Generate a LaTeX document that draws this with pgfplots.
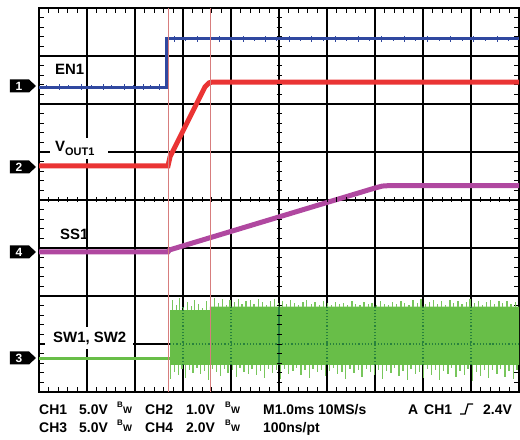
\documentclass[border=0pt]{standalone}
\usepackage{pgfplots}
\pgfplotsset{compat=1.18}
\usepackage{fontspec}
\setmainfont{Liberation Sans}
\definecolor{cblue}{RGB}{48,72,160}
\definecolor{cred}{RGB}{234,52,52}
\definecolor{cmag}{RGB}{176,72,160}
\definecolor{cgreen}{RGB}{104,190,72}
\definecolor{cgreenl}{RGB}{120,198,92}
\definecolor{cgreend}{RGB}{40,130,60}
\definecolor{ccur}{RGB}{215,125,125}
\begin{document}
\begin{tikzpicture}
\begin{axis}[
  width=480bp, height=384bp, scale only axis,
  xmin=0, xmax=10, ymin=0, ymax=8,
  xtick={0,...,10}, ytick={0,...,8},
  xticklabels={}, yticklabels={},
  minor x tick num=4, minor y tick num=4,
  grid=major, major grid style={black, line width=1.2bp},
  axis line style={black, line width=2bp},
  tick align=inside, major tick length=0pt, minor tick length=5bp,
  minor tick style={black, line width=0.8bp},
  unbounded coords=jump,
]
% SW band
\addplot[fill=cgreen, draw=none] coordinates {(2.73,0.5625) (2.73,1.708) (3.56,1.708) (3.56,1.78) (10,1.78) (10,0.5625)} --cycle;
% top spikes
\addplot[draw=none, mark=none, error bars/.cd, y dir=plus, y explicit, error mark=none,
  error bar style={draw=cgreenl, line width=1.3bp}] coordinates {
(2.78,1.70) +- (0,0.22) (2.86,1.70) +- (0,0.12) (2.93,1.70) +- (0,0.25) (3.01,1.70) +- (0,0.08)
(3.09,1.70) +- (0,0.18) (3.17,1.70) +- (0,0.10) (3.24,1.70) +- (0,0.22) (3.33,1.70) +- (0,0.14)
(3.41,1.70) +- (0,0.06) (3.49,1.70) +- (0,0.20) (3.58,1.77) +- (0,0.12) (3.66,1.77) +- (0,0.18)
(3.74,1.77) +- (0,0.08) (3.82,1.77) +- (0,0.16) (3.90,1.77) +- (0,0.05) (3.98,1.77) +- (0,0.14)
(4.07,1.77) +- (0,0.10) (4.15,1.77) +- (0,0.17) (4.23,1.77) +- (0,0.06) (4.31,1.77) +- (0,0.12)
(4.40,1.77) +- (0,0.15) (4.48,1.77) +- (0,0.07) (4.57,1.77) +- (0,0.17) (4.65,1.77) +- (0,0.10)
(4.74,1.77) +- (0,0.05) (4.82,1.77) +- (0,0.13) (4.90,1.77) +- (0,0.16) (4.99,1.77) +- (0,0.08)
(5.07,1.77) +- (0,0.12) (5.16,1.77) +- (0,0.06) (5.24,1.77) +- (0,0.14) (5.33,1.77) +- (0,0.09)
(5.41,1.77) +- (0,0.04) (5.50,1.77) +- (0,0.11) (5.58,1.77) +- (0,0.15) (5.67,1.77) +- (0,0.06)
(5.75,1.77) +- (0,0.10) (5.84,1.77) +- (0,0.05) (5.92,1.77) +- (0,0.13) (6.01,1.77) +- (0,0.08)
(6.09,1.77) +- (0,0.04) (6.18,1.77) +- (0,0.11) (6.26,1.77) +- (0,0.06) (6.35,1.77) +- (0,0.09)
(6.43,1.77) +- (0,0.05) (6.52,1.77) +- (0,0.12) (6.60,1.77) +- (0,0.07) (6.69,1.77) +- (0,0.04)
(6.77,1.77) +- (0,0.10) (6.86,1.77) +- (0,0.06) (6.94,1.77) +- (0,0.09) (7.03,1.77) +- (0,0.05)
(7.11,1.77) +- (0,0.12) (7.20,1.77) +- (0,0.07) (7.28,1.77) +- (0,0.04) (7.37,1.77) +- (0,0.10)
(7.45,1.77) +- (0,0.06) (7.54,1.77) +- (0,0.13) (7.62,1.77) +- (0,0.08) (7.71,1.77) +- (0,0.05)
(7.79,1.77) +- (0,0.14) (7.88,1.77) +- (0,0.09) (7.96,1.77) +- (0,0.16) (8.05,1.77) +- (0,0.06)
(8.13,1.77) +- (0,0.11) (8.22,1.77) +- (0,0.15) (8.30,1.77) +- (0,0.07) (8.39,1.77) +- (0,0.12)
(8.47,1.77) +- (0,0.05) (8.56,1.77) +- (0,0.14) (8.64,1.77) +- (0,0.09) (8.73,1.77) +- (0,0.13)
(8.81,1.77) +- (0,0.06) (8.90,1.77) +- (0,0.11) (8.98,1.77) +- (0,0.16) (9.07,1.77) +- (0,0.08)
(9.15,1.77) +- (0,0.12) (9.24,1.77) +- (0,0.05) (9.32,1.77) +- (0,0.10) (9.41,1.77) +- (0,0.14)
(9.49,1.77) +- (0,0.07) (9.58,1.77) +- (0,0.12) (9.66,1.77) +- (0,0.09) (9.75,1.77) +- (0,0.13)
(9.83,1.77) +- (0,0.06) (9.92,1.77) +- (0,0.11)
};
% bottom spikes
\addplot[draw=none, mark=none, error bars/.cd, y dir=minus, y explicit, error mark=none,
  error bar style={draw=cgreenl, line width=1.3bp}] coordinates {
(2.74,0.57) +- (0,0.30) (2.82,0.57) +- (0,0.15) (2.90,0.57) +- (0,0.22) (2.98,0.57) +- (0,0.10)
(3.05,0.57) +- (0,0.28) (3.13,0.57) +- (0,0.12) (3.21,0.57) +- (0,0.18) (3.29,0.57) +- (0,0.08)
(3.37,0.57) +- (0,0.20) (3.45,0.57) +- (0,0.14) (3.53,0.57) +- (0,0.32) (3.62,0.57) +- (0,0.10)
(3.70,0.57) +- (0,0.16) (3.78,0.57) +- (0,0.24) (3.86,0.57) +- (0,0.09) (3.94,0.57) +- (0,0.18)
(4.03,0.57) +- (0,0.12) (4.11,0.57) +- (0,0.26) (4.19,0.57) +- (0,0.08) (4.27,0.57) +- (0,0.15)
(4.36,0.57) +- (0,0.20) (4.44,0.57) +- (0,0.10) (4.53,0.57) +- (0,0.22) (4.61,0.57) +- (0,0.13)
(4.70,0.57) +- (0,0.28) (4.78,0.57) +- (0,0.09) (4.86,0.57) +- (0,0.17) (4.95,0.57) +- (0,0.12)
(5.03,0.57) +- (0,0.30) (5.12,0.57) +- (0,0.10) (5.20,0.57) +- (0,0.19) (5.29,0.57) +- (0,0.14)
(5.37,0.57) +- (0,0.08) (5.46,0.57) +- (0,0.22) (5.54,0.57) +- (0,0.12) (5.63,0.57) +- (0,0.27)
(5.71,0.57) +- (0,0.09) (5.80,0.57) +- (0,0.16) (5.88,0.57) +- (0,0.11) (5.97,0.57) +- (0,0.24)
(6.05,0.57) +- (0,0.13) (6.14,0.57) +- (0,0.08) (6.22,0.57) +- (0,0.20) (6.31,0.57) +- (0,0.15)
(6.39,0.57) +- (0,0.29) (6.48,0.57) +- (0,0.10) (6.56,0.57) +- (0,0.18) (6.65,0.57) +- (0,0.12)
(6.73,0.57) +- (0,0.25) (6.82,0.57) +- (0,0.09) (6.90,0.57) +- (0,0.16) (6.99,0.57) +- (0,0.21)
(7.07,0.57) +- (0,0.11) (7.16,0.57) +- (0,0.30) (7.24,0.57) +- (0,0.13) (7.33,0.57) +- (0,0.18)
(7.41,0.57) +- (0,0.08) (7.50,0.57) +- (0,0.24) (7.58,0.57) +- (0,0.14) (7.67,0.57) +- (0,0.33)
(7.75,0.57) +- (0,0.10) (7.84,0.57) +- (0,0.20) (7.92,0.57) +- (0,0.15) (8.01,0.57) +- (0,0.27)
(8.09,0.57) +- (0,0.09) (8.18,0.57) +- (0,0.22) (8.26,0.57) +- (0,0.12) (8.35,0.57) +- (0,0.31)
(8.43,0.57) +- (0,0.14) (8.52,0.57) +- (0,0.19) (8.60,0.57) +- (0,0.08) (8.69,0.57) +- (0,0.26)
(8.77,0.57) +- (0,0.13) (8.86,0.57) +- (0,0.21) (8.94,0.57) +- (0,0.10) (9.03,0.57) +- (0,0.34)
(9.11,0.57) +- (0,0.15) (9.20,0.57) +- (0,0.23) (9.28,0.57) +- (0,0.11) (9.37,0.57) +- (0,0.28)
(9.45,0.57) +- (0,0.12) (9.54,0.57) +- (0,0.20) (9.62,0.57) +- (0,0.09) (9.71,0.57) +- (0,0.25)
(9.79,0.57) +- (0,0.14) (9.88,0.57) +- (0,0.30) (9.96,0.57) +- (0,0.12)
};
% grid dots through band
\draw[cgreend, line width=1.2bp, dotted] (axis cs:2.73,1) -- (axis cs:10,1);
\foreach \gx in {3,4,6,7,8,9} {\edef\tmp{\noexpand\draw[cgreend, line width=1.2bp, dotted] (axis cs:\gx,0.5625) -- (axis cs:\gx,1.77);}\tmp}
\draw[cgreend, line width=1.2bp] (axis cs:5,0.5625) -- (axis cs:5,1.77);
% SW low
\addplot[cgreen, line width=3bp] coordinates {(0,0.708) (2.73,0.708)};
% SS1
\addplot[cmag, line width=5bp] coordinates {(0,2.917) (2.6875,2.917) (2.72,2.96) (7.0,4.25) (7.15,4.29) (7.3,4.30) (10,4.30)};
% VOUT1
\addplot[cred, line width=5bp] coordinates {(0,4.71) (2.6875,4.71) (2.73,4.90) (2.78,5.00) (3.46,6.36) (3.54,6.44) (3.62,6.458) (10,6.458)};
% EN1
\addplot[cblue, line width=3bp] coordinates {(0,6.354) (2.646,6.354) (2.646,7.354) (10,7.354)};
% EN1 noise
\addplot[draw=none, mark=none, error bars/.cd, y dir=both, y explicit, error mark=none,
  error bar style={draw=cblue, line width=1bp}] coordinates {
(0.15,6.354) +- (0,0.05) (0.42,6.354) +- (0,0.06) (0.61,6.354) +- (0,0.04) (0.88,6.354) +- (0,0.06)
(1.10,6.354) +- (0,0.05) (1.35,6.354) +- (0,0.07) (1.52,6.354) +- (0,0.05) (1.78,6.354) +- (0,0.06)
(1.96,6.354) +- (0,0.04) (2.17,6.354) +- (0,0.06) (2.33,6.354) +- (0,0.05) (2.52,6.354) +- (0,0.06)
(2.82,7.354) +- (0,0.06) (3.05,7.354) +- (0,0.05) (3.31,7.354) +- (0,0.06) (3.58,7.354) +- (0,0.05)
(3.77,7.354) +- (0,0.06) (4.02,7.354) +- (0,0.04) (4.26,7.354) +- (0,0.06) (4.49,7.354) +- (0,0.05)
(4.71,7.354) +- (0,0.06) (4.95,7.354) +- (0,0.05) (5.21,7.354) +- (0,0.06) (5.44,7.354) +- (0,0.04)
(5.67,7.354) +- (0,0.06) (5.93,7.354) +- (0,0.05) (6.18,7.354) +- (0,0.06) (6.40,7.354) +- (0,0.05)
(6.66,7.354) +- (0,0.06) (6.89,7.354) +- (0,0.04) (7.13,7.354) +- (0,0.06) (7.38,7.354) +- (0,0.05)
(7.61,7.354) +- (0,0.06) (7.85,7.354) +- (0,0.05) (8.10,7.354) +- (0,0.06) (8.34,7.354) +- (0,0.04)
(8.57,7.354) +- (0,0.06) (8.82,7.354) +- (0,0.05) (9.06,7.354) +- (0,0.06) (9.30,7.354) +- (0,0.05)
(9.55,7.354) +- (0,0.06) (9.79,7.354) +- (0,0.05)
};
% cursors
\addplot[ccur, line width=0.9bp] coordinates {(2.6875,0) (2.6875,8)};
\addplot[ccur, line width=0.9bp] coordinates {(3.5625,0) (3.5625,8)};
\end{axis}
\begin{scope}[x=1bp, y=-1bp, shift={([xshift=-39bp,yshift=8bp]current axis.north west)}]
% centre crosshair ticks
\foreach \i in {1,...,39} {\draw[black, line width=0.8bp] (276.5,8+\i*9.6) -- (281.5,8+\i*9.6);}
\foreach \i in {1,...,49} {\draw[black, line width=0.8bp] (39+\i*9.6,197.5) -- (39+\i*9.6,202.5);}
% label boxes
\fill[white] (50,138) rectangle (108,159);
\fill[white] (45,327) rectangle (133,349);
\node[anchor=base west, inner sep=0, font=\fontsize{15}{15}\selectfont\bfseries] at (55,75) {EN1};
\node[anchor=base west, inner sep=0, font=\fontsize{15}{15}\selectfont\bfseries] at (55,152) {V\raisebox{-4bp}{\fontsize{11}{11}\selectfont OUT1}};
\node[anchor=base west, inner sep=0, font=\fontsize{15}{15}\selectfont\bfseries] at (60,240) {SS1};
\node[anchor=base west, inner sep=0, font=\fontsize{15}{15}\selectfont\bfseries] at (53,343) {SW1, SW2};
% channel markers
\foreach \yy/\lab in {86/1,167/2,252/4,358/3} {
  \fill[black] (10,\yy-6.5) -- (29,\yy-6.5) -- (36,\yy) -- (29,\yy+6.5) -- (10,\yy+6.5) -- cycle;
  \node[white, font=\fontsize{12}{12}\selectfont\bfseries, inner sep=0] at (19,\yy) {\lab};
}
% bottom text
\tikzset{bt/.style={anchor=base west, inner sep=0, font=\fontsize{14}{14}\selectfont\bfseries}}
\tikzset{bb/.style={anchor=base west, inner sep=0, font=\fontsize{8}{8}\selectfont\bfseries}}
\tikzset{bw/.style={anchor=base west, inner sep=0, font=\fontsize{9.5}{9.5}\selectfont\bfseries}}
\node[bt] at (39,415) {CH1};
\node[bt] at (79,415) {5.0V};
\node[bb] at (117,408) {B}; \node[bw] at (123,414) {W};
\node[bt] at (145,415) {CH2};
\node[bt] at (186,415) {1.0V};
\node[bb] at (225,408) {B}; \node[bw] at (231,414) {W};
\node[bt] at (263,415) {M1.0ms 10MS/s};
\node[bt] at (408,415) {A};
\node[bt] at (424,415) {CH1};
\draw[black, line width=1.3bp] (460,414) -- (465,414) -- (468,404) -- (473,404);
\node[bt] at (483,415) {2.4V};
\node[bt] at (39,433) {CH3};
\node[bt] at (79,433) {5.0V};
\node[bb] at (117,426) {B}; \node[bw] at (123,432) {W};
\node[bt] at (145,433) {CH4};
\node[bt] at (186,433) {2.0V};
\node[bb] at (225,426) {B}; \node[bw] at (231,432) {W};
\node[bt] at (263,433) {100ns/pt};
\pgfresetboundingbox
\path (0,0) rectangle (520,440);
\end{scope}
\end{tikzpicture}
\end{document}
